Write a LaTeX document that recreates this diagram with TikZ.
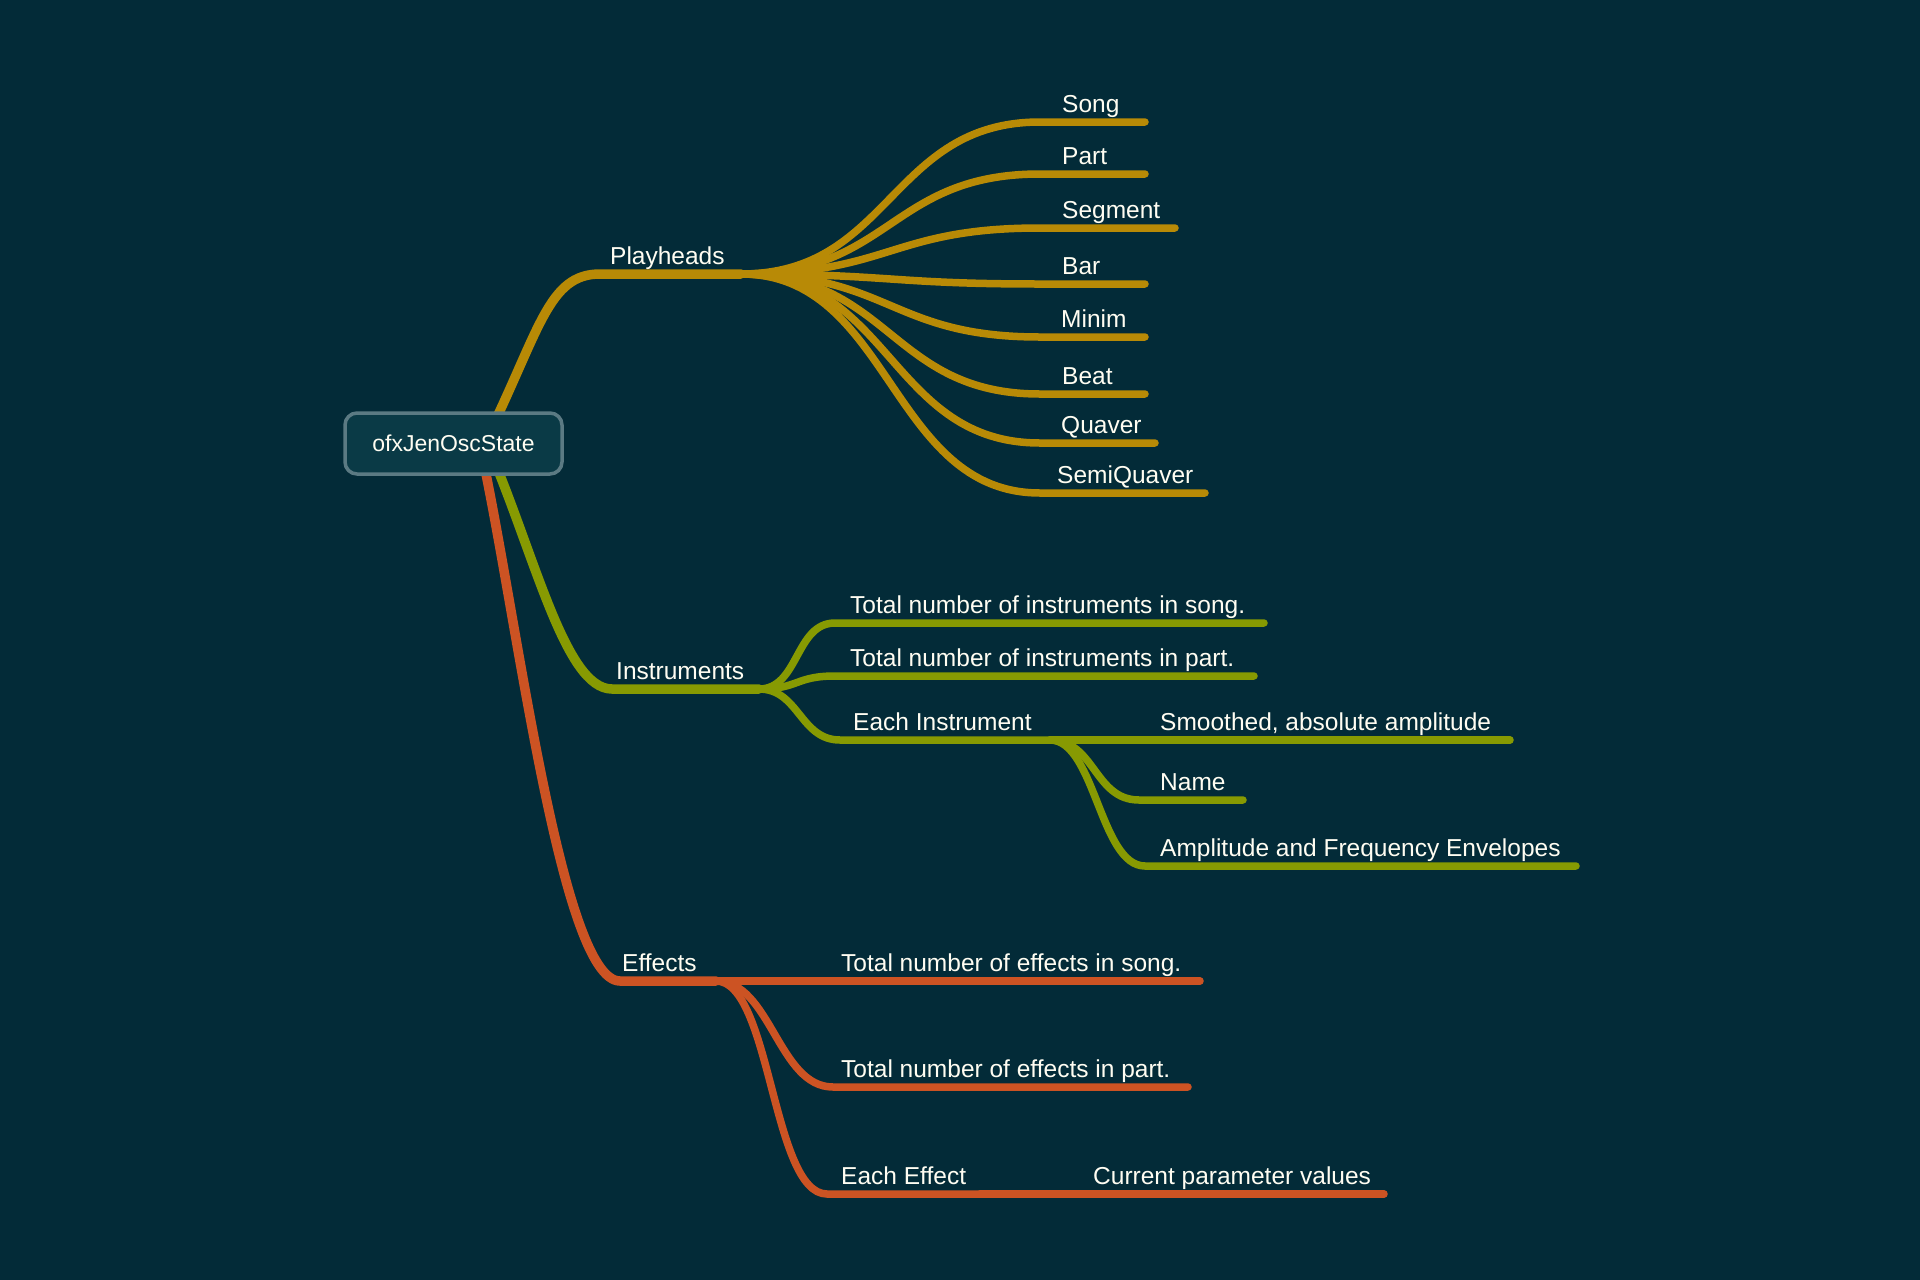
\documentclass[tikz,border=0pt]{standalone}
\usepackage{fontspec}
\setmainfont{Liberation Sans}
\definecolor{bg}{HTML}{032B38}
\definecolor{gold}{HTML}{B88A06}
\definecolor{olive}{HTML}{879A02}
\definecolor{rust}{HTML}{CC5323}
\definecolor{boxfill}{HTML}{0A3A46}
\definecolor{boxline}{HTML}{5B7A83}
\definecolor{txt}{HTML}{FFFDF2}
\begin{document}
\begin{tikzpicture}[x=1pt,y=-1pt,
  lbl/.style={anchor=base west,inner sep=0pt,text=txt,font=\fontsize{24.5}{29}\selectfont},
  trunk/.style={line width=9.5pt,line cap=round},
  twig/.style={line width=7.5pt,line cap=round},
  rootbox/.style={draw=boxline,fill=boxfill,line width=3.5pt,rounded corners=12pt,
    minimum width=217pt,minimum height=61pt,inner sep=0pt,text=txt,
    font=\fontsize{23}{27}\selectfont}]
% canvas
\fill[bg] (0,0) rectangle (1920,1280);
\useasboundingbox (0,0) rectangle (1920,1280);

% ---------- hubs and line points ----------
\coordinate (rPH) at (486,440);
\coordinate (rIN) at (488,446);
\coordinate (rEF) at (480,446);
\coordinate (phS) at (600,274);  \coordinate (ph)  at (741,274);
\coordinate (inS) at (612,689);  \coordinate (in)  at (759,689);
\coordinate (efS) at (620,981);  \coordinate (ef)  at (716,981);

% ---------- Playheads ----------
\draw[trunk,gold] (rPH) .. controls (540,330) and (548,274) .. (phS) -- (ph);
\node[lbl] (phL) at (610,264.5) {Playheads};
\foreach \name/\txt/\y/\xe/\xl in {
    song/Song/122/1145/1062,
    part/Part/174/1145/1062,
    segm/Segment/228/1175/1062,
    bar/Bar/284/1145/1062,
    minim/Minim/337/1145/1061,
    beat/Beat/394/1145/1062,
    quav/Quaver/443/1155/1061,
    semi/SemiQuaver/493/1205/1057}{
  \coordinate (\name S) at (1040,\y);
  \coordinate (\name E) at (\xe,\y);
  \draw[twig,gold] (ph) .. controls +(150,0) and +(-150,0) .. (\name S) -- (\name E);
  \node[lbl] (\name) at (\xl,\y-9.5) {\txt};
}

% ---------- Instruments ----------
\draw[trunk,olive] (rIN) .. controls (535,555) and (565,689) .. (inS) -- (in);
\node[lbl] (inL) at (616,679.5) {Instruments};

\coordinate (isS) at (835,623); \coordinate (isE) at (1264,623);
\draw[twig,olive] (in) .. controls +(40,0) and +(-40,0) .. (isS) -- (isE);
\node[lbl] (is) at (850,613.5) {Total number of instruments in song.};

\coordinate (ipS) at (835,676); \coordinate (ipE) at (1254,676);
\draw[twig,olive] (in) .. controls +(40,0) and +(-40,0) .. (ipS) -- (ipE);
\node[lbl] (ip) at (850,666.5) {Total number of instruments in part.};

\coordinate (eiS) at (840,740); \coordinate (ei) at (1050,740);
\draw[twig,olive] (in) .. controls +(40,0) and +(-40,0) .. (eiS) -- (ei);
\node[lbl] (eiL) at (853,730.5) {Each Instrument};

\coordinate (smE) at (1510,740);
\draw[twig,olive] (ei) -- (smE);
\node[lbl] (sm) at (1160,730.5) {Smoothed, absolute amplitude};

\coordinate (nmS) at (1139,800); \coordinate (nmE) at (1243,800);
\draw[twig,olive] (ei) .. controls +(45,0) and +(-45,0) .. (nmS) -- (nmE);
\node[lbl] (nm) at (1160,790.5) {Name};

\coordinate (afS) at (1145,866); \coordinate (afE) at (1576,866);
\draw[twig,olive] (ei) .. controls +(45,0) and +(-45,0) .. (afS) -- (afE);
\node[lbl] (af) at (1160,856.5) {Amplitude and Frequency Envelopes};

% ---------- Effects ----------
\draw[trunk,rust] (rEF) .. controls (515,600) and (560,981) .. (efS) -- (ef);
\node[lbl] (efL) at (622,971.5) {Effects};

\coordinate (esE) at (1200,981);
\draw[twig,rust] (ef) -- (esE);
\node[lbl] (es) at (841,971.5) {Total number of effects in song.};

\coordinate (epS) at (833,1087); \coordinate (epE) at (1188,1087);
\draw[twig,rust] (ef) .. controls +(55,0) and +(-55,0) .. (epS) -- (epE);
\node[lbl] (ep) at (841,1077.5) {Total number of effects in part.};

\coordinate (eeS) at (827,1194); \coordinate (ee) at (980,1194);
\draw[twig,rust] (ef) .. controls +(55,0) and +(-55,0) .. (eeS) -- (ee);
\node[lbl] (eeL) at (841,1184.5) {Each Effect};

\coordinate (cpE) at (1384,1194);
\draw[twig,rust] (ee) -- (cpE);
\node[lbl] (cp) at (1093,1184.5) {Current parameter values};

% ---------- central topic ----------
\node[rootbox] (root) at (453.5,443.5) {ofxJenOscState};
\end{tikzpicture}
\end{document}
